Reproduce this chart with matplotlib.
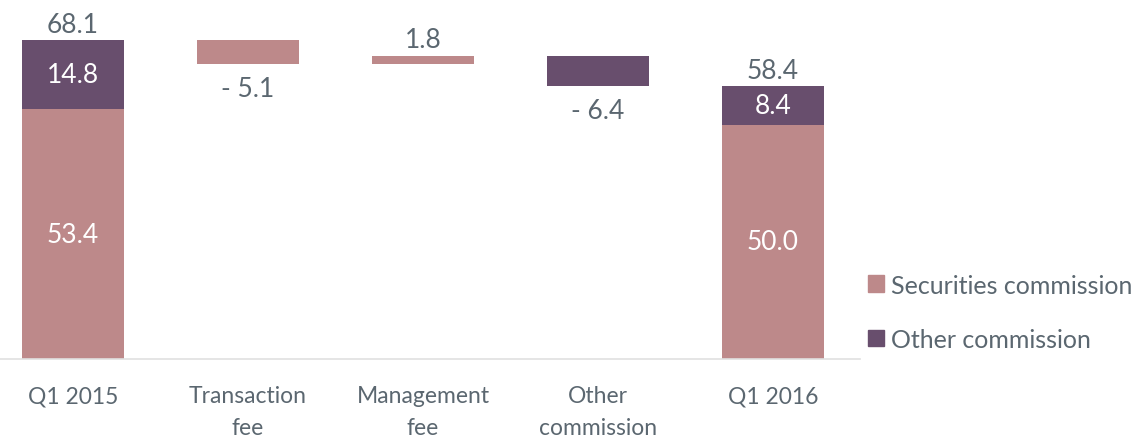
import numpy as np
import matplotlib.pyplot as plt
from matplotlib.patches import Patch

plt.rcParams['font.family'] = ['Lato', 'DejaVu Sans']

# Data
categories = ["Q1 2015", "Transaction\nfee", "Management\nfee", "Other\ncommission", "Q1 2016"]
totals = [68.1, 58.4]                # Q1 2015, Q1 2016
securities = [53.4, 50.0]
other = [14.8, 8.4]
changes = [-5.1, 1.8, -6.4]          # transaction fee, management fee, other commission
change_series = ["sec", "sec", "other"]

col_sec = "#bd898a"
col_other = "#684e6d"
col_text = "#5b6770"

fig = plt.figure(figsize=(11.34, 4.39), dpi=100)
ax = fig.add_axes([0.0, 0.18, 860 / 1134, 351 / 439])

x = np.arange(len(categories))
w = 0.583
fs_val = 19

def stacked(xi, sec, oth, tot):
    ax.bar(xi, sec, w, color=col_sec)
    ax.bar(xi, tot - sec, w, bottom=sec, color=col_other)
    ax.text(xi, sec / 2, f"{sec:.1f}", ha="center", va="center", color="white", fontsize=fs_val)
    ax.text(xi, (sec + tot) / 2, f"{oth:.1f}", ha="center", va="center", color="white", fontsize=fs_val)
    ax.text(xi, tot + 0.6, f"{tot:.1f}", ha="center", va="bottom", color=col_text, fontsize=fs_val)

stacked(x[0], securities[0], other[0], totals[0])

# Changes
level = totals[0]
for i, (c, s) in enumerate(zip(changes, change_series)):
    xi = x[i + 1]
    bottom = level + min(c, 0)
    ax.bar(xi, abs(c), w, bottom=bottom, color=col_sec if s == "sec" else col_other)
    if c < 0:
        ax.text(xi, bottom - 2.6, f"- {abs(c):.1f}", ha="center", va="top", color=col_text, fontsize=fs_val)
    else:
        ax.text(xi, bottom + c + 0.7, f"{c:.1f}", ha="center", va="bottom", color=col_text, fontsize=fs_val)
    level += c

stacked(x[4], securities[1], other[1], totals[1])

ax.set_xlim(-0.417, 4.497)
ax.set_ylim(0, 75)
ax.set_xticks(x)
ax.set_xticklabels(categories, color=col_text, fontsize=16.5, linespacing=1.6)
ax.tick_params(axis="x", length=0, pad=19)
ax.set_yticks([])
for side in ["top", "right", "left"]:
    ax.spines[side].set_visible(False)
ax.spines["bottom"].set_color("#e0e0e0")
ax.spines["bottom"].set_linewidth(1.2)

handles = [Patch(color=col_sec, label="Securities commission"),
           Patch(color=col_other, label="Other commission")]
leg = fig.legend(handles=handles, loc="upper left", bbox_to_anchor=(845 / 1134, 1 - 252 / 439),
                 frameon=False, fontsize=18, labelcolor=col_text, handlelength=0.65, handleheight=0.65,
                 handletextpad=0.3, labelspacing=1.25)

fig.savefig("out.png", dpi=100)
